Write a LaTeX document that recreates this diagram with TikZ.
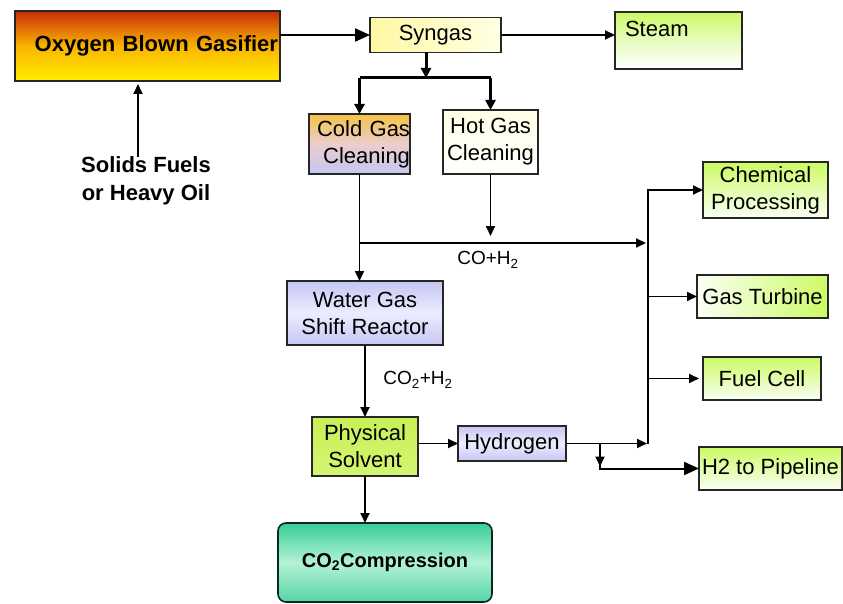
\documentclass[tikz,border=0pt]{standalone}
\usepackage{fontspec}
\setmainfont{Liberation Sans}
\usetikzlibrary{arrows.meta}

\definecolor{gasred}{RGB}{200,45,10}
\definecolor{gasorange}{RGB}{250,180,0}
\definecolor{gasyellow}{RGB}{255,238,0}
\definecolor{synyellow}{RGB}{255,248,165}
\definecolor{synlight}{RGB}{255,255,228}
\definecolor{limegreen}{RGB}{204,250,100}
\definecolor{limemid}{RGB}{230,252,190}
\definecolor{paleend}{RGB}{250,255,245}
\definecolor{coldtop}{RGB}{245,195,70}
\definecolor{coldmid}{RGB}{235,205,205}
\definecolor{lavender}{RGB}{198,198,242}
\definecolor{lavlight}{RGB}{236,236,255}
\definecolor{cream}{RGB}{255,255,230}
\definecolor{solvgreen}{RGB}{200,240,85}
\definecolor{solvlight}{RGB}{212,245,115}
\definecolor{co2teal}{RGB}{55,205,150}
\definecolor{co2light}{RGB}{180,242,214}

\begin{document}
\begin{tikzpicture}[x=1pt,y=-1pt,>={Triangle[length=10pt,width=9pt]},
  box/.style={draw=black!85,line width=1.6pt,inner sep=0pt,outer sep=0pt,
    align=center,font=\fontsize{22}{27}\selectfont},
  flow/.style={->,line width=1.8pt},
  bigflow/.style={-{Triangle[length=15pt,width=13pt]},line width=2pt},
  splitflow/.style={-{Triangle[length=10pt,width=10pt]},line width=3pt},
  lbl/.style={inner sep=0pt,font=\fontsize{19}{22}\selectfont}]

\useasboundingbox (0,0) rectangle (843,604);

% --- Gassificatore e alimentazione ---
\node[box,top color=gasred,bottom color=gasyellow,middle color=gasorange,
  text width=261pt,align=right,inner xsep=2pt,minimum height=70pt,
  font=\bfseries\fontsize{22}{27}\selectfont] (gasifier) at (147.5,46) {Oxygen Blown Gasifier};
\node[align=center,inner sep=0pt,font=\bfseries\fontsize{22}{28}\selectfont]
  (solids) at (146,181) {Solids Fuels\\or Heavy Oil};

% --- Syngas e vapore ---
\node[box,left color=synyellow,right color=synlight,minimum width=131pt,minimum height=35pt]
  (syngas) at (435.5,35) {Syngas};
\node[box,top color=limegreen,bottom color=white,middle color=limemid,text width=107pt,align=left,
  inner xsep=10pt,inner ysep=8.5pt,text height=16pt,text depth=24pt]
  (steam) at (678.5,40.5) {Steam};

% --- Pulizia del gas ---
\node[box,top color=coldtop,bottom color=lavender,middle color=coldmid,
  text width=101pt,align=right,minimum height=60pt] (coldgas) at (359.5,144) {Cold Gas\\Cleaning};
\node[box,top color=cream,bottom color=white,minimum width=95pt,minimum height=64pt]
  (hotgas) at (490.5,142) {Hot Gas\\Cleaning};

% --- Linea CO2 / idrogeno ---
\node[box,top color=lavender,bottom color=lavender,middle color=lavlight,
  minimum width=156pt,minimum height=64pt] (water) at (365,313) {Water Gas\\Shift Reactor};
\node[box,top color=solvgreen,bottom color=solvlight,minimum width=106pt,minimum height=59pt]
  (physical) at (365,446.5) {Physical\\Solvent};
\node[box,top color=lavender,bottom color=lavender,middle color=lavlight,
  minimum width=108pt,minimum height=35pt] (hydrogen) at (512,443.5) {Hydrogen};
\node[box,draw=black!80!co2teal,rounded corners=8pt,top color=co2teal,bottom color=co2teal!85,
  middle color=co2light,minimum width=214pt,minimum height=79pt,
  font=\bfseries\fontsize{20}{24}\selectfont] (co2) at (385,562.5) {CO\textsubscript{2}Compression};

% --- Utilizzi finali ---
\node[box,top color=limegreen,bottom color=paleend,minimum width=125pt,minimum height=56pt]
  (chemical) at (765.5,190) {Chemical\\Processing};
\node[box,left color=paleend,right color=limegreen,minimum width=131pt,minimum height=43pt]
  (turbine) at (762.5,296.5) {Gas Turbine};
\node[box,top color=limegreen,bottom color=paleend,minimum width=118pt,minimum height=43pt]
  (fuelcell) at (762,378.5) {Fuel Cell};
\node[box,top color=limegreen,bottom color=paleend,minimum width=143pt,minimum height=43pt]
  (pipeline) at (770.5,468.5) {H2 to Pipeline};

% etichette dei flussi
\node[lbl] (coh2) at (488,260) {CO+H\textsubscript{2}};
\node[lbl] (co2h2) at (418,380) {CO\textsubscript{2}+H\textsubscript{2}};

% --- Collegamenti ---
\coordinate (split) at (426,78);
\coordinate (cojoin) at (648,243);
\coordinate (bus) at (648,443.5);
\coordinate (h2split) at (600,443.5);

\draw[flow,shorten >=3pt] ([xshift=-8pt]solids.north) -- ([xshift=-8pt]solids.north |- gasifier.south);
\draw[bigflow] (gasifier.east |- syngas.west) -- (syngas.west);
\draw[flow] (syngas.east) -- (syngas.east -| steam.west);

\draw[splitflow] (split |- syngas.south) -- (split);
\draw[line width=3pt] (split -| coldgas.north) -- (split -| hotgas.north);
\draw[splitflow] (split -| coldgas.north) -- (coldgas.north);
\draw[splitflow] (split -| hotgas.north) -- (hotgas.north);

\draw[flow] (coldgas.south) -- (coldgas.south |- water.north);
\draw[flow,shorten >=2pt] (coldgas.south |- cojoin) -- (cojoin);
\draw[flow,shorten >=7pt] (hotgas.south) -- (hotgas.south |- cojoin);

\draw[flow] (water.south) -- (physical.north);
\draw[flow] (physical.east |- hydrogen.west) -- (hydrogen.west);
\draw[flow] (physical.south) -- (physical.south |- co2.north);

\draw[flow,shorten >=1pt] (hydrogen.east) -- (bus);
\draw[flow] (h2split) -- ++(0,23);
\draw[bigflow] (h2split) |- (pipeline.west);

\draw[flow] (bus) |- (chemical.west);
\draw[flow] (bus |- turbine.west) -- (turbine.west);
\draw[flow,shorten >=4pt] (bus |- fuelcell.west) -- (fuelcell.west);

\end{tikzpicture}
\end{document}
